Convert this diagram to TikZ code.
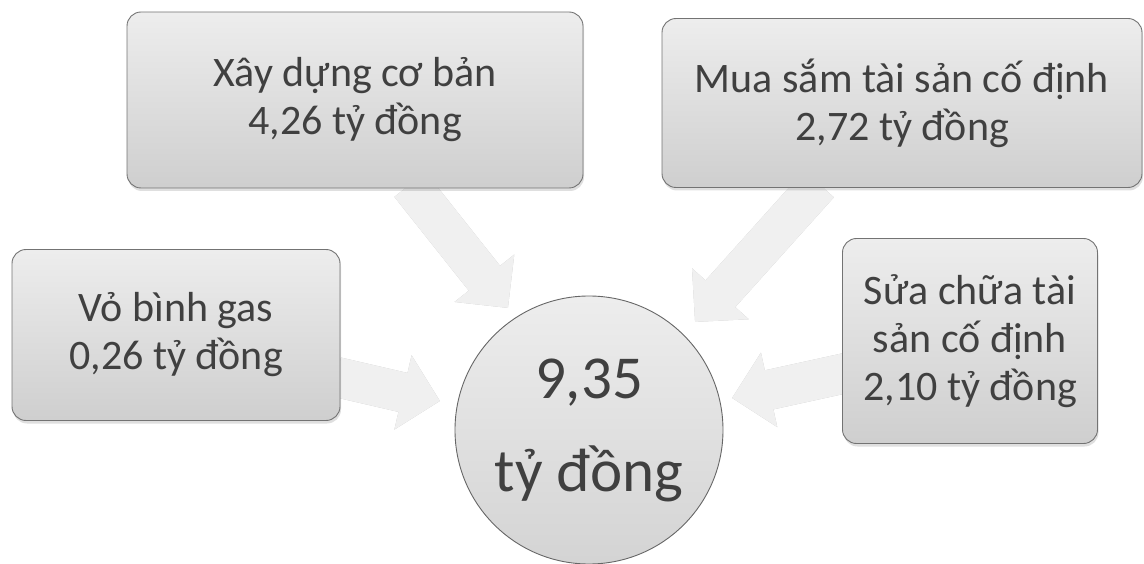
\documentclass[tikz,border=0pt]{standalone}
\usepackage{fontspec}
\setmainfont{Carlito}
\usetikzlibrary{arrows.meta,shadows,calc}
\pgfdeclarelayer{bg}
\pgfsetlayers{bg,main}
\begin{document}
\begin{tikzpicture}[x=1pt,y=-1pt,
  box/.style={draw=black!55, line width=0.9pt, rounded corners=14pt,
    top color=black!7, bottom color=black!19, text=black!75, align=center,
    font=\fontsize{42}{48}\selectfont, inner sep=0pt,
    drop shadow={opacity=0.25, shadow xshift=1pt, shadow yshift=-3pt}},
  hub/.style={circle, draw=black!60, line width=0.9pt,
    top color=black!7, bottom color=black!17, text=black!75, align=center,
    font=\fontsize{61}{93}\selectfont, inner sep=0pt, minimum size=268pt},
  blockarrow/.style={line width=40pt, draw=black!6,
    -{Triangle[width=74pt,length=38pt]}},
  blockshadow/.style={blockarrow, draw=black!24, xshift=1.5pt, yshift=-2.5pt}]
\useasboundingbox (0,0) rectangle (1144,564);

\node[box, minimum width=456pt, minimum height=176pt] (A) at (355,100)
  {Xây dựng cơ bản\\4,26 tỷ đồng};
\node[box, minimum width=480pt, minimum height=169pt] (B) at (902,103)
  {Mua sắm tài sản cố định\\2,72 tỷ đồng};
\node[box, minimum width=328pt, minimum height=171pt] (C) at (176,335)
  {Vỏ bình gas\\0,26 tỷ đồng};
\node[box, minimum width=255pt, minimum height=205pt] (D) at (970,341)
  {Sửa chữa tài\\sản cố định\\2,10 tỷ đồng};
\node[hub] (E) at (589,430) {9,35\\tỷ đồng};

\coordinate (tA) at (508,308);
\coordinate (tB) at (695,322);
\coordinate (tC) at (440,401);
\coordinate (tD) at (732,398);

\begin{pgfonlayer}{bg}
  \draw[blockshadow] ($(A.south)+(55,-4)$) -- (tA);
  \draw[blockarrow]  ($(A.south)+(55,-4)$) -- (tA);
  \draw[blockshadow] ($(B.south)+(-83,-4)$) -- (tB);
  \draw[blockarrow]  ($(B.south)+(-83,-4)$) -- (tB);
  \draw[blockshadow] ($(C.east)+(-4,42)$) -- (tC);
  \draw[blockarrow]  ($(C.east)+(-4,42)$) -- (tC);
  \draw[blockshadow] ($(D.west)+(4,32)$) -- (tD);
  \draw[blockarrow]  ($(D.west)+(4,32)$) -- (tD);
\end{pgfonlayer}
\end{tikzpicture}
\end{document}
